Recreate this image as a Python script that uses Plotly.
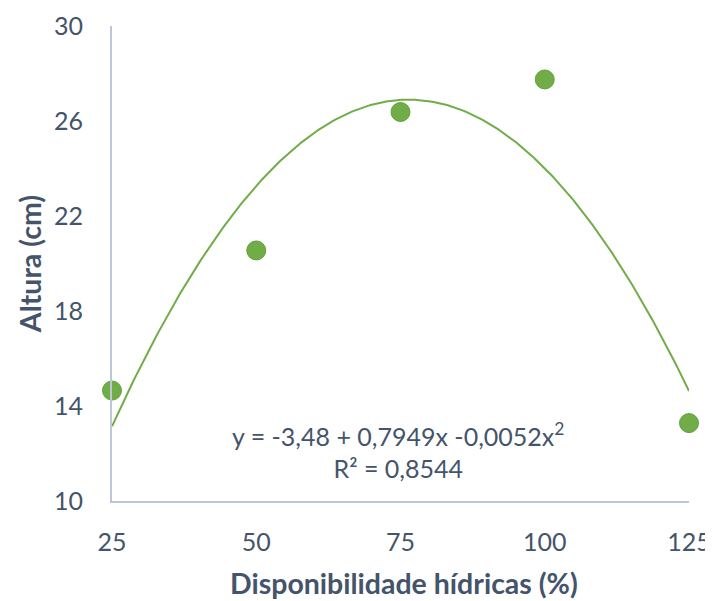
import numpy as np
import plotly.graph_objects as go

# Data
disponibilidade = [25, 50, 75, 100, 125]
altura = [14.65, 20.55, 26.38, 27.75, 13.28]
# Trendline coefficients shown on chart: y = b0 + b1 x + b2 x^2
coef = [-3.48, 0.7949, -0.0052]
x_ticks = [25, 50, 75, 100, 125]
y_ticks = [10, 14, 18, 22, 26, 30]

xt = np.linspace(25, 125, 300)
yt = coef[0] + coef[1] * xt + coef[2] * xt ** 2

txt = "#44546A"
green = "#70AD47"
FONT = "Lato"

fig = go.Figure()
fig.add_trace(go.Scatter(x=xt, y=yt, mode="lines", cliponaxis=False,
                         line=dict(color=green, width=2), hoverinfo="skip"))
fig.add_trace(go.Scatter(x=disponibilidade, y=altura, mode="markers", cliponaxis=False,
                         marker=dict(size=19, color=green,
                                     line=dict(color="#63A03E", width=1))))

fig.add_annotation(x=74.5, y=12.12, xref="x", yref="y",
                   text="y = -3,48 + 0,7949x -0,0052x<sup>2</sup><br>R² = 0,8544",
                   showarrow=False, font=dict(size=25, color=txt, family=FONT),
                   align="center")

# x-axis title placed as annotation for exact position
fig.add_annotation(x=0.506, y=-0.172, xref="paper", yref="paper",
                   xanchor="center", yanchor="middle",
                   text="<b>Disponibilidade hídricas (%)</b>", showarrow=False,
                   font=dict(size=28.5, color=txt, family=FONT))

fig.update_layout(
    width=705, height=593,
    margin=dict(l=104, r=24, t=18, b=100),
    paper_bgcolor="white", plot_bgcolor="white",
    showlegend=False,
    font=dict(family=FONT, color=txt, size=25),
    xaxis=dict(range=[25, 125], tickvals=x_ticks, showgrid=False, zeroline=False,
               showline=True, linecolor="#BCC6D6", linewidth=2, ticks="",
               automargin=False, ticklabelstandoff=18,
               tickfont=dict(size=25, color=txt)),
    yaxis=dict(range=[10, 30], tickvals=y_ticks, showgrid=False, zeroline=False,
               showline=True, linecolor="#BCC6D6", linewidth=2, ticks="",
               automargin=False, ticklabelstandoff=22,
               tickfont=dict(size=25, color=txt),
               title=dict(text="<b>Altura (cm)</b>",
                          font=dict(size=28.5, color=txt), standoff=4)),
)

fig.write_html("out.html")
